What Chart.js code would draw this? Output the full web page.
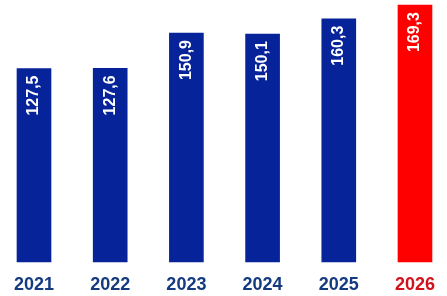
<!DOCTYPE html>
<html>
<head>
<meta charset="utf-8">
<script src="https://cdn.jsdelivr.net/npm/chart.js@4/dist/chart.umd.min.js"></script>
<style>
html,body{margin:0;padding:0;background:#fff;overflow:hidden;}
#wrap{width:447px;height:296px;position:relative;}
</style>
</head>
<body>
<div id="wrap"><canvas id="c"></canvas></div>
<script>
const years = ['2021','2022','2023','2024','2025','2026'];
const values = [127.5, 127.6, 150.9, 150.1, 160.3, 169.3];
const valueLabels = ['127,5','127,6','150,9','150,1','160,3','169,3'];
const BLUE = '#06239a', RED = '#fe0000';
const BLUE_TXT = '#143a80', RED_TXT = '#d2111b';
const barColors = years.map((y,i)=> i===years.length-1 ? RED : BLUE);
const tickColors = years.map((y,i)=> i===years.length-1 ? RED_TXT : BLUE_TXT);

const valuePlugin = {
  id:'valueLabels',
  afterDatasetsDraw(chart){
    const ctx = chart.ctx;
    const meta = chart.getDatasetMeta(0);
    ctx.save();
    ctx.fillStyle = '#ffffff';
    ctx.font = 'bold 16px "Liberation Sans", Arial, sans-serif';
    ctx.textAlign = 'right';
    ctx.textBaseline = 'middle';
    meta.data.forEach((bar,i)=>{
      ctx.save();
      ctx.translate(bar.x, bar.y + 7);
      ctx.rotate(-Math.PI/2);
      ctx.fillText(valueLabels[i], 0, 0);
      ctx.restore();
    });
    ctx.restore();
  }
};

new Chart(document.getElementById('c'), {
  type:'bar',
  data:{labels:years, datasets:[{data:values, backgroundColor:barColors, borderWidth:0, barThickness:34, clip:false}]},
  options:{
    responsive:true, maintainAspectRatio:false, animation:false,
    layout:{padding:{left:34, right:31, top:4, bottom:0}},
    plugins:{legend:{display:false}, tooltip:{enabled:false}},
    scales:{
      x:{offset:false, grid:{display:false, drawTicks:false}, border:{display:false},
         afterFit(scale){ scale.height = 34; },
         ticks:{padding:12, color:tickColors, font:{family:'"Liberation Sans", Arial, sans-serif', size:18, weight:'bold'}, maxRotation:0, autoSkip:false}},
      y:{display:false, min:0, max:170}
    }
  },
  plugins:[valuePlugin]
});
</script>
</body>
</html>
